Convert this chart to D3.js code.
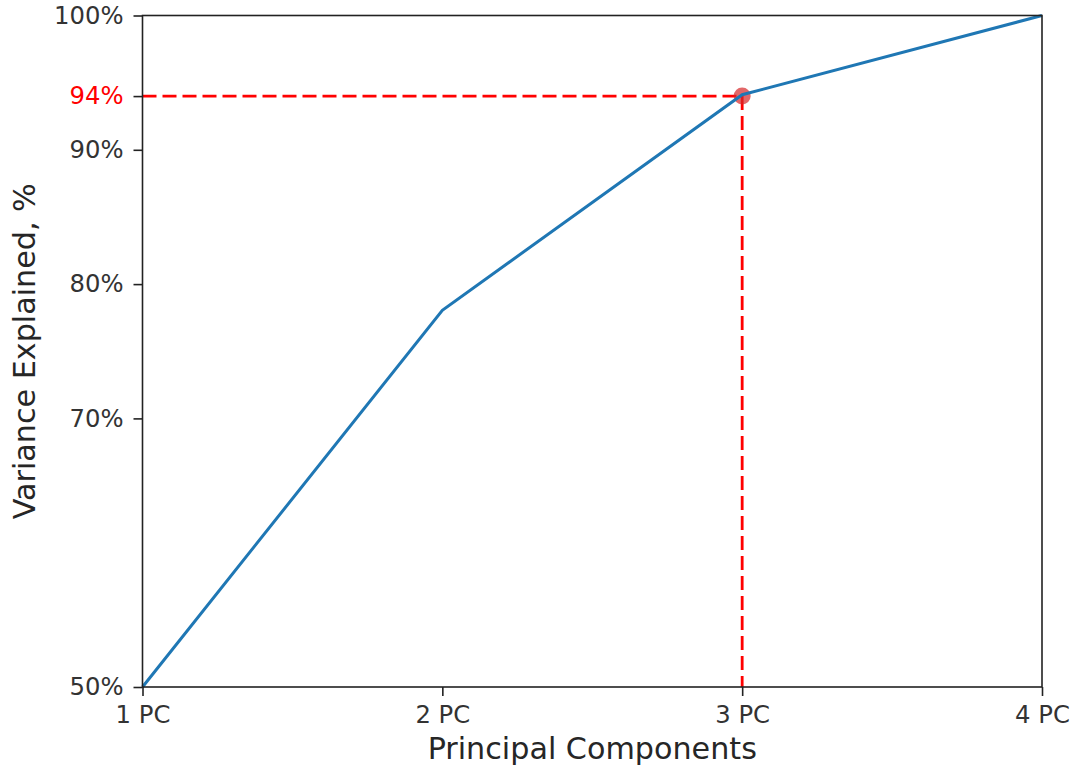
<!DOCTYPE html>
<html>
<head>
<meta charset="utf-8">
<script src="https://cdn.jsdelivr.net/npm/d3@7"></script>
<style>
    body { margin: 0; background: #fff; }
    text { font-family: "DejaVu Sans", sans-serif; }
</style>
</head>
<body>
<svg id="chart" width="1073" height="769"></svg>
<script>
// cumulative variance explained per number of principal components
const components = ["1 PC", "2 PC", "3 PC", "4 PC"];
const cumVariance = [50, 78.05, 94.1, 100];
const yTicks = [50, 70, 80, 90, 100];
const threshold = 94;
const thresholdIndex = 2;

const svg = d3.select("#chart");
const margin = { top: 15.5, right: 31, bottom: 82, left: 142.5 };
const width = 1073 - margin.left - margin.right;
const height = 769 - margin.top - margin.bottom;

const g = svg.append("g")
    .attr("transform", `translate(${margin.left},${margin.top})`);

const x = d3.scalePoint()
    .domain(components)
    .range([0, width]);

const y = d3.scaleLinear()
    .domain([50, 100])
    .range([height, 0]);

// red threshold guides
g.append("line")
    .attr("x1", 0)
    .attr("x2", x(components[thresholdIndex]))
    .attr("y1", y(threshold))
    .attr("y2", y(threshold))
    .style("stroke", "red")
    .style("stroke-width", 2.8)
    .style("stroke-dasharray", "14,6");

g.append("line")
    .attr("x1", x(components[thresholdIndex]))
    .attr("x2", x(components[thresholdIndex]))
    .attr("y1", y(threshold))
    .attr("y2", height)
    .style("stroke", "red")
    .style("stroke-width", 2.8)
    .style("stroke-dasharray", "14,6");

g.append("circle")
    .attr("cx", x(components[thresholdIndex]))
    .attr("cy", y(threshold))
    .attr("r", 8.5)
    .style("fill", "#d62728")
    .style("fill-opacity", 0.7);

const line = d3.line()
    .x((d, i) => x(components[i]))
    .y(d => y(d));

g.append("path")
    .datum(cumVariance)
    .attr("d", line)
    .style("fill", "none")
    .style("stroke", "#1f77b4")
    .style("stroke-width", 3);

// frame
g.append("rect")
    .attr("width", width)
    .attr("height", height)
    .style("fill", "none")
    .style("stroke", "#222")
    .style("stroke-width", 1.6);

const xAxis = g.append("g")
    .attr("transform", `translate(0,${height})`)
    .call(d3.axisBottom(x).tickSizeOuter(0).tickSize(9).tickPadding(10));

const yAxis = g.append("g")
    .call(d3.axisLeft(y)
        .tickValues(yTicks.concat([threshold]))
        .tickFormat(d => d + "%")
        .tickSizeOuter(0).tickSize(9).tickPadding(10));

[xAxis, yAxis].forEach(ax => {
    ax.select(".domain").remove();
    ax.selectAll(".tick line").style("stroke", "#222").style("stroke-width", 1.6);
    ax.selectAll(".tick text")
        .style("font-size", "24.3px")
        .style("font-family", "DejaVu Sans")
        .style("fill", "#333");
});

yAxis.selectAll(".tick text")
    .filter(d => d === threshold)
    .style("fill", "red");

svg.append("text")
    .attr("x", margin.left + width / 2)
    .attr("y", 759)
    .attr("text-anchor", "middle")
    .style("font-size", "30.2px")
    .style("fill", "#262626")
    .text("Principal Components");

svg.append("text")
    .attr("transform", `translate(35,${margin.top + height / 2}) rotate(-90)`)
    .attr("text-anchor", "middle")
    .style("font-size", "30.2px")
    .style("fill", "#262626")
    .text("Variance Explained, %");
</script>
</body>
</html>
